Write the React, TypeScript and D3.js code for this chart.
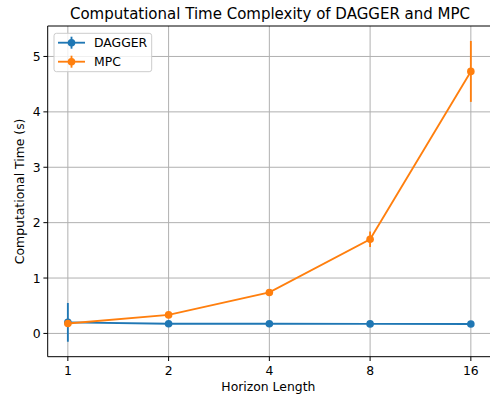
import * as d3 from 'd3'

const horizons = ['1', '2', '4', '8', '16']
const daggerMean = [0.2, 0.175, 0.175, 0.172, 0.17]
const daggerErr = [0.35, 0.01, 0.01, 0.01, 0.01]
const mpcMean = [0.18, 0.335, 0.74, 1.7, 4.73]
const mpcErr = [0.02, 0.02, 0.03, 0.14, 0.55]
const yTicks = [0, 1, 2, 3, 4, 5]

const W = 490
const H = 399
const left = 47.7
const right = 491
const top = 26
const bottom = 356.7

const font = 'DejaVu Sans, sans-serif'

const App = () => {
  const x = d3.scaleLinear().domain([-0.2, 4.2]).range([left, right])
  const y = d3.scaleLinear().domain([-0.42, 5.55]).range([bottom, top])

  const line = d3
    .line<number>()
    .x((_, i) => x(i))
    .y(d => y(d))

  const series = [
    { name: 'DAGGER', mean: daggerMean, err: daggerErr, color: '#1f77b4' },
    { name: 'MPC', mean: mpcMean, err: mpcErr, color: '#ff7f0e' },
  ]

  return (
    <svg width={W} height={H} style={{ position: 'absolute', left: 0, top: 0 }}>
      <rect width={W} height={H} fill="white" />
      {/* grid */}
      <g stroke="#b0b0b0" strokeWidth={1}>
        {horizons.map((_, i) => (
          <line key={'gx' + i} x1={x(i)} x2={x(i)} y1={top} y2={bottom} />
        ))}
        {yTicks.map(t => (
          <line key={'gy' + t} x1={left} x2={right} y1={y(t)} y2={y(t)} />
        ))}
      </g>
      {/* series */}
      {series.map(s => (
        <g key={s.name}>
          <path d={line(s.mean) || ''} fill="none" stroke={s.color} strokeWidth={1.85} />
          {s.mean.map((m, i) => (
            <line
              key={'e' + i}
              x1={x(i)}
              x2={x(i)}
              y1={y(m - s.err[i])}
              y2={y(m + s.err[i])}
              stroke={s.color}
              strokeWidth={1.85}
            />
          ))}
          {s.mean.map((m, i) => (
            <circle key={'c' + i} cx={x(i)} cy={y(m)} r={3.8} fill={s.color} />
          ))}
        </g>
      ))}
      {/* spines */}
      <g stroke="black" strokeWidth={1} fill="none">
        <line x1={left} x2={left} y1={top} y2={bottom} />
        <line x1={left} x2={right} y1={bottom} y2={bottom} />
        <line x1={left} x2={right} y1={top} y2={top} />
      </g>
      {/* x ticks */}
      {horizons.map((h, i) => (
        <g key={'xt' + h} transform={`translate(${x(i)},${bottom})`}>
          <line y2={4.3} stroke="black" strokeWidth={1} />
          <text y={18} textAnchor="middle" fontFamily={font} fontSize={12.4} fill="black">
            {h}
          </text>
        </g>
      ))}
      {/* y ticks */}
      {yTicks.map(t => (
        <g key={'yt' + t} transform={`translate(${left},${y(t)})`}>
          <line x2={-4.3} stroke="black" strokeWidth={1} />
          <text x={-7} dy="0.36em" textAnchor="end" fontFamily={font} fontSize={12.4} fill="black">
            {t}
          </text>
        </g>
      ))}
      {/* labels */}
      <text x={(left + right) / 2 - 1} y={391} textAnchor="middle" fontFamily={font} fontSize={12.4}>
        Horizon Length
      </text>
      <text
        transform={`translate(24,${(top + bottom) / 2}) rotate(-90)`}
        textAnchor="middle"
        fontFamily={font}
        fontSize={12.4}
      >
        Computational Time (s)
      </text>
      <text x={270} y={19} textAnchor="middle" fontFamily={font} fontSize={15}>
        Computational Time Complexity of DAGGER and MPC
      </text>
      {/* legend */}
      <rect
        x={54}
        y={33.3}
        width={97.7}
        height={38.4}
        rx={2.5}
        fill="white"
        fillOpacity={0.8}
        stroke="#cccccc"
        strokeWidth={1}
      />
      {series.map((s, i) => {
        const ly = 42.7 + i * 19
        return (
          <g key={'lg' + s.name}>
            <line x1={58} x2={85} y1={ly} y2={ly} stroke={s.color} strokeWidth={1.85} />
            <line x1={71.5} x2={71.5} y1={ly - 6} y2={ly + 6} stroke={s.color} strokeWidth={1.85} />
            <circle cx={71.5} cy={ly} r={3.8} fill={s.color} />
            <text x={94} y={ly} dy="0.36em" fontFamily={font} fontSize={12.4}>
              {s.name}
            </text>
          </g>
        )
      })}
    </svg>
  )
}

export default App
